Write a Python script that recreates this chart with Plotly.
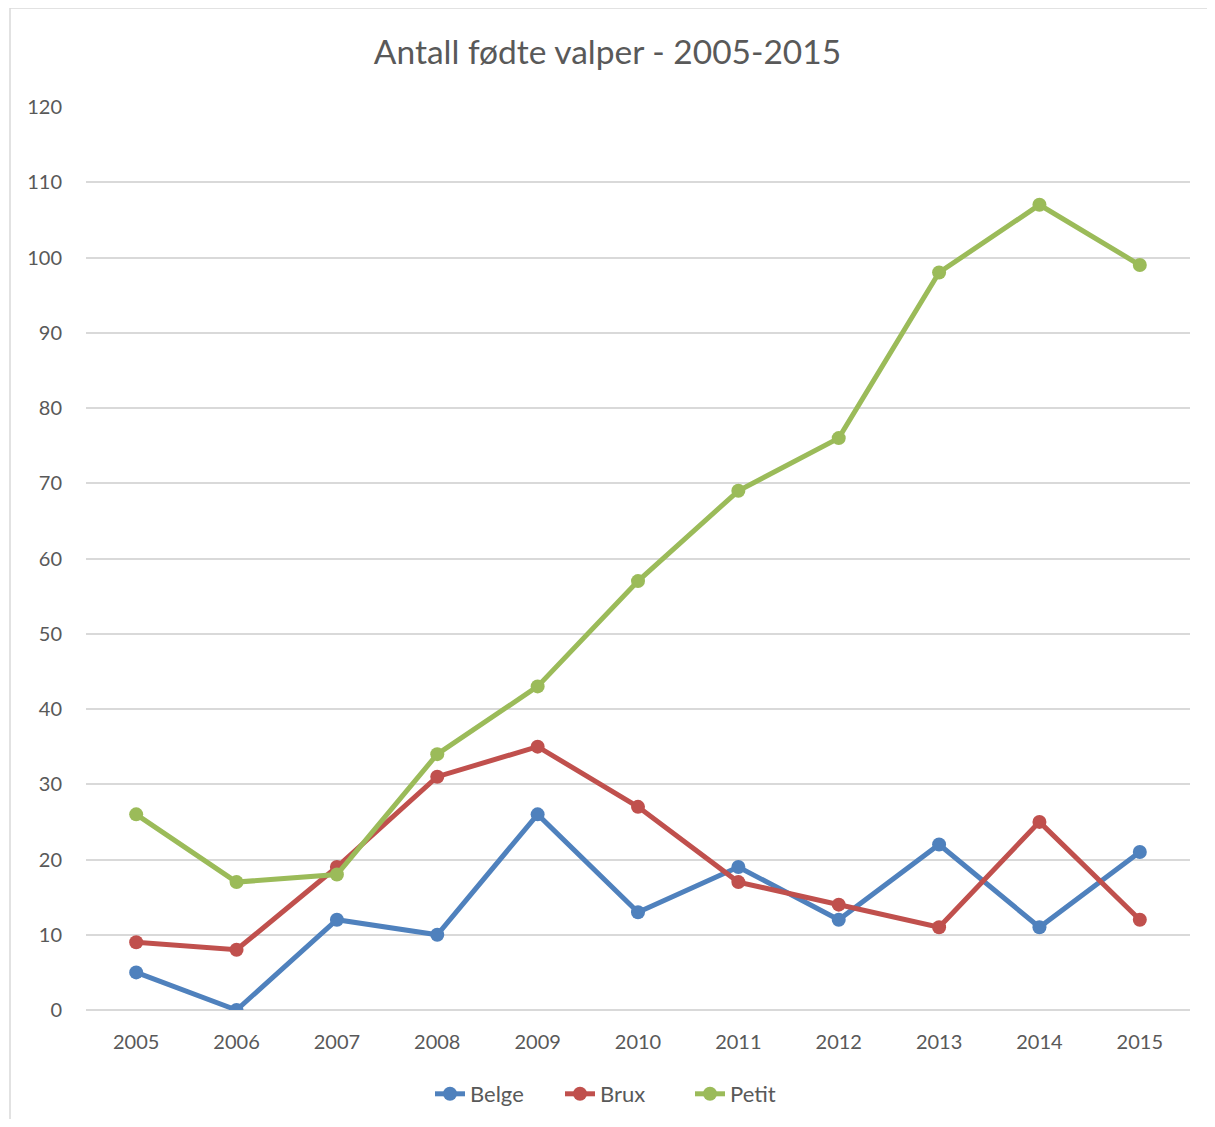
import plotly.graph_objects as go

years = ["2005", "2006", "2007", "2008", "2009", "2010", "2011", "2012", "2013", "2014", "2015"]
belge = [5, 0, 12, 10, 26, 13, 19, 12, 22, 11, 21]
brux = [9, 8, 19, 31, 35, 27, 17, 14, 11, 25, 12]
petit = [26, 17, 18, 34, 43, 57, 69, 76, 98, 107, 99]

series = [("Belge", belge, "#4F81BD"), ("Brux", brux, "#C0504D"), ("Petit", petit, "#9BBB59")]

fig = go.Figure()
for name, vals, col in series:
    fig.add_trace(go.Scatter(x=years, y=vals, name=name, mode="lines+markers",
                             line=dict(color=col, width=5),
                             marker=dict(color=col, size=14)))

# page has an 8px body margin; work in figure coordinates = reference - 8
OFF = 8
W, H = 1215 - 2 * OFF, 1127 - 2 * OFF
l, r, t, b = 86 - OFF, W - (1190 - OFF), 107 - OFF, H - (1010 - OFF)
pw, ph = W - l - r, H - t - b

def px(x):
    return (x - OFF - l) / pw

def py(y):
    return (H - b - (y - OFF)) / ph

fig.update_layout(
    width=W, height=H,
    margin=dict(l=l, r=r, t=t, b=b, autoexpand=False),
    paper_bgcolor="white", plot_bgcolor="white",
    font=dict(family="Lato, Open Sans, sans-serif", color="#595959", size=20),
    title=dict(text="Antall fødte valper - 2005-2015", x=0.5, xanchor="center",
               y=1 - (52 - OFF) / H, yanchor="middle", font=dict(size=33.5, color="#595959")),
    showlegend=True,
    legend=dict(orientation="h", x=px(430), xanchor="left", y=py(1094), yanchor="middle",
                font=dict(size=22, color="#595959"), entrywidth=85, entrywidthmode="pixels"),
    xaxis=dict(type="category", range=[-0.5, 10.5], showgrid=False, showline=False, ticks="",
               tickfont=dict(size=20, color="#595959"), ticklabelstandoff=18),
    yaxis=dict(range=[0, 120], dtick=10, showgrid=True, gridcolor="#D9D9D9", gridwidth=1.5,
               zeroline=True, zerolinecolor="#D9D9D9", zerolinewidth=1.5,
               showline=False, ticks="", tickfont=dict(size=20, color="#595959"),
               ticklabelstandoff=23),
    shapes=[dict(type="rect", xref="paper", yref="paper",
                 x0=px(10), x1=px(1240), y0=py(1160), y1=py(8),
                 line=dict(color="#D9D9D9", width=1.5), fillcolor="rgba(0,0,0,0)", layer="below")],
)

fig.write_html("out.html")
